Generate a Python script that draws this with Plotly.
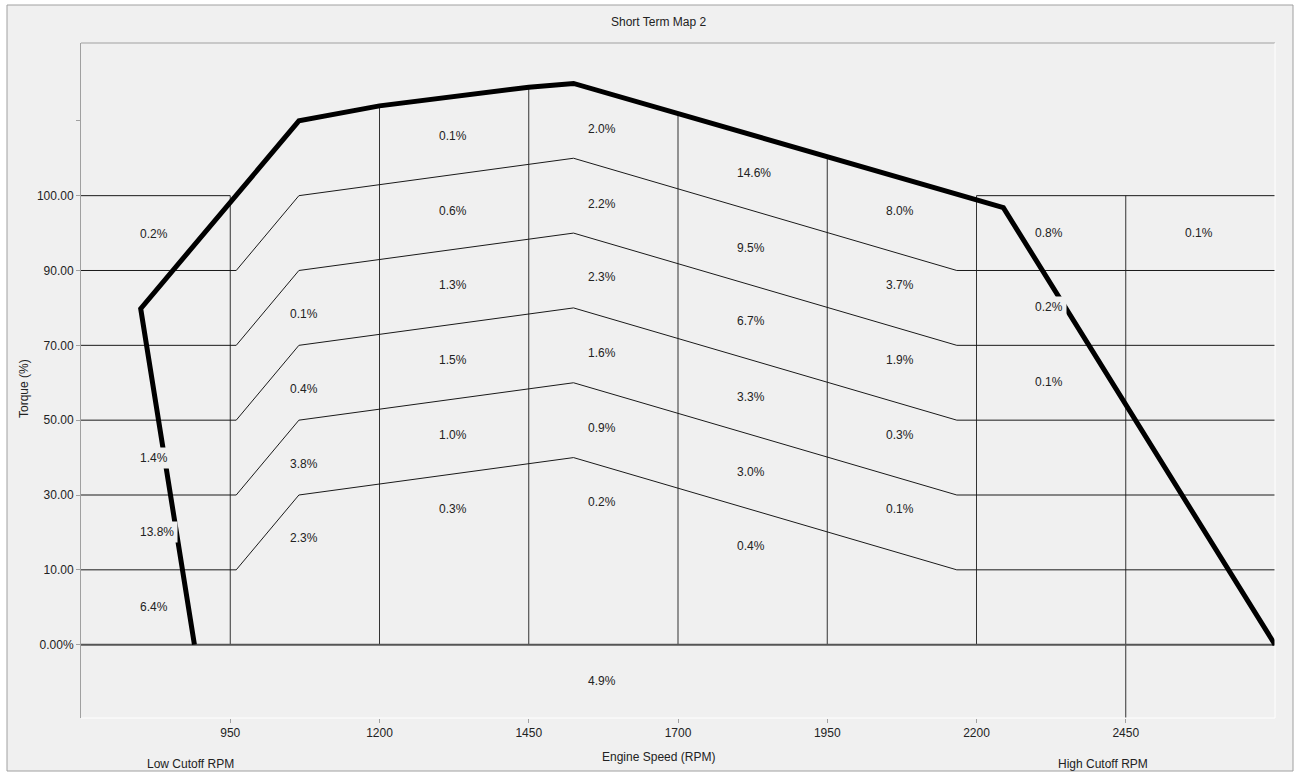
import numpy as np
import plotly.graph_objects as go

# ---------------- data ----------------
rpm_ticks = [950, 1200, 1450, 1700, 1950, 2200, 2450]
torque_tick_pos = [0, 1, 2, 3, 4, 5, 6, 7]
torque_tick_text = ["0.00%", "10.00", "30.00", "50.00", "70.00", "90.00", "100.00", ""]

# limit (torque) curve, in torque-band positions
limit_rpm = [890, 800, 1065, 1200, 1450, 1525, 2245, 2700]
limit_pos = [0.0, 4.49, 7.0, 7.2, 7.45, 7.5, 5.84, 0.0]

# shaped band boundaries (10 .. 90 lines)
band_base = [1, 2, 3, 4, 5]
band_rpm = [700, 960, 1065, 1525, 2167, 2700]
band_rise = [0, 0, 1, 1.5, 0, 0]

# 100 % boundary segments
top_band_pos = 6
top_band_segments = [[700, 950], [2200, 2700]]

vline_bottom = [0, 0, 0, 0, 0, 0, -1]

# cell percentages
cell_text = ["0.2%", "1.4%", "13.8%", "6.4%",
             "0.1%", "0.4%", "3.8%", "2.3%",
             "0.1%", "0.6%", "1.3%", "1.5%", "1.0%", "0.3%",
             "2.0%", "2.2%", "2.3%", "1.6%", "0.9%", "0.2%", "4.9%",
             "14.6%", "9.5%", "6.7%", "3.3%", "3.0%", "0.4%",
             "8.0%", "3.7%", "1.9%", "0.3%", "0.1%",
             "0.8%", "0.2%", "0.1%",
             "0.1%"]
cell_rpm = [823, 823, 828, 823,
            1073, 1073, 1073, 1073,
            1323, 1323, 1323, 1323, 1323, 1323,
            1572, 1572, 1572, 1572, 1572, 1572, 1572,
            1828, 1822, 1822, 1822, 1822, 1822,
            2072, 2072, 2072, 2072, 2072,
            2322, 2322, 2322,
            2573]
cell_pos = [5.49, 2.50, 1.51, 0.51,
            4.42, 3.41, 2.41, 1.42,
            6.80, 5.80, 4.80, 3.80, 2.80, 1.81,
            6.89, 5.89, 4.91, 3.90, 2.89, 1.91, -0.49,
            6.30, 5.30, 4.32, 3.31, 2.31, 1.32,
            5.80, 4.81, 3.80, 2.80, 1.81,
            5.50, 4.51, 3.51,
            5.50]

# ---------------- layout helpers ----------------
W, H = 1298, 773
L, R, T, B = 81, 1275, 43, 718
BG = "#f0f0f0"
FONT = "Liberation Sans, Arial, sans-serif"
TXT = "#222222"


def pxx(x):
    return (x - L) / (R - L)


def pxy(y):
    return (B - y) / (B - T)


fig = go.Figure()

# vertical grid lines
env_rpm = limit_rpm[1:]
env_pos = limit_pos[1:]
vx, vy = [], []
for r, b0 in zip(rpm_ticks, vline_bottom):
    top = max(float(np.interp(r, env_rpm, env_pos)), top_band_pos)
    vx += [r, r, None]
    vy += [b0, top, None]
fig.add_trace(go.Scatter(x=vx, y=vy, mode="lines", line=dict(color="#333333", width=1),
                         hoverinfo="skip", showlegend=False))

# shaped band lines
gx, gy = [], []
for base in band_base:
    gx += band_rpm + [None]
    gy += [base + d for d in band_rise] + [None]
for seg in top_band_segments:
    gx += seg + [None]
    gy += [top_band_pos, top_band_pos, None]
fig.add_trace(go.Scatter(x=gx, y=gy, mode="lines", line=dict(color="#1a1a1a", width=1),
                         hoverinfo="skip", showlegend=False))

# zero line
fig.add_trace(go.Scatter(x=[700, 2700], y=[0, 0], mode="lines",
                         line=dict(color="#555555", width=2),
                         hoverinfo="skip", showlegend=False))

# limit curve
fig.add_trace(go.Scatter(x=limit_rpm, y=limit_pos, mode="lines",
                         line=dict(color="#000000", width=5),
                         hoverinfo="skip", showlegend=False))

annotations = []
for t, xr, yp in zip(cell_text, cell_rpm, cell_pos):
    annotations.append(dict(x=xr, y=yp, xref="x", yref="y", text=t, showarrow=False,
                            font=dict(family=FONT, size=12, color=TXT),
                            bgcolor=BG, borderpad=3, xanchor="center", yanchor="middle"))


def paper_label(text, x, y, angle=0):
    return dict(x=pxx(x), y=pxy(y), xref="paper", yref="paper", text=text,
                showarrow=False, xanchor="center", yanchor="middle", textangle=angle,
                font=dict(family=FONT, size=12, color=TXT))


annotations += [
    paper_label("Short Term Map 2", 658, 22),
    paper_label("Engine Speed (RPM)", 658, 757),
    paper_label("Low Cutoff RPM", 190, 764),
    paper_label("High Cutoff RPM", 1103, 764),
    paper_label("Torque (%)", 24, 389, -90),
]

shapes = [
    # outer frame
    dict(type="rect", xref="paper", yref="paper", x0=pxx(7), x1=pxx(1293), y0=pxy(771), y1=pxy(5),
         line=dict(color="#a0a0a0", width=1), fillcolor=BG, layer="below"),
    # plot border: top gray, right/bottom white
    dict(type="line", xref="paper", yref="paper", x0=0, x1=1, y0=1, y1=1,
         line=dict(color="#a0a0a0", width=1)),
    dict(type="line", xref="paper", yref="paper", x0=1, x1=1, y0=0, y1=1,
         line=dict(color="#ffffff", width=1)),
    dict(type="line", xref="paper", yref="paper", x0=0, x1=1, y0=0, y1=0,
         line=dict(color="#ffffff", width=1)),
]

fig.update_layout(
    width=W, height=H, autosize=False,
    margin=dict(l=L, r=W - R, t=T, b=H - B, pad=0),
    paper_bgcolor="#ffffff", plot_bgcolor=BG,
    font=dict(family=FONT, size=12, color=TXT),
    annotations=annotations, shapes=shapes, showlegend=False,
    xaxis=dict(range=[700, 2700], tickmode="array", tickvals=rpm_ticks,
               ticktext=[str(v) for v in rpm_ticks], ticks="outside", ticklen=4,
               tickcolor="#a0a0a0", showgrid=False, zeroline=False, showline=False,
               tickfont=dict(family=FONT, size=12, color=TXT), fixedrange=True),
    yaxis=dict(range=[-0.98, 8.04], tickmode="array", tickvals=torque_tick_pos,
               ticktext=torque_tick_text, ticks="outside", ticklen=4,
               tickcolor="#a0a0a0", showgrid=False, zeroline=False, showline=True,
               linecolor="#a0a0a0", linewidth=1,
               tickfont=dict(family=FONT, size=12, color=TXT), fixedrange=True),
)

fig.write_html(
    "out.html",
    config={"displayModeBar": False},
    post_script="document.body.style.margin='0';document.body.style.overflow='hidden';",
)
